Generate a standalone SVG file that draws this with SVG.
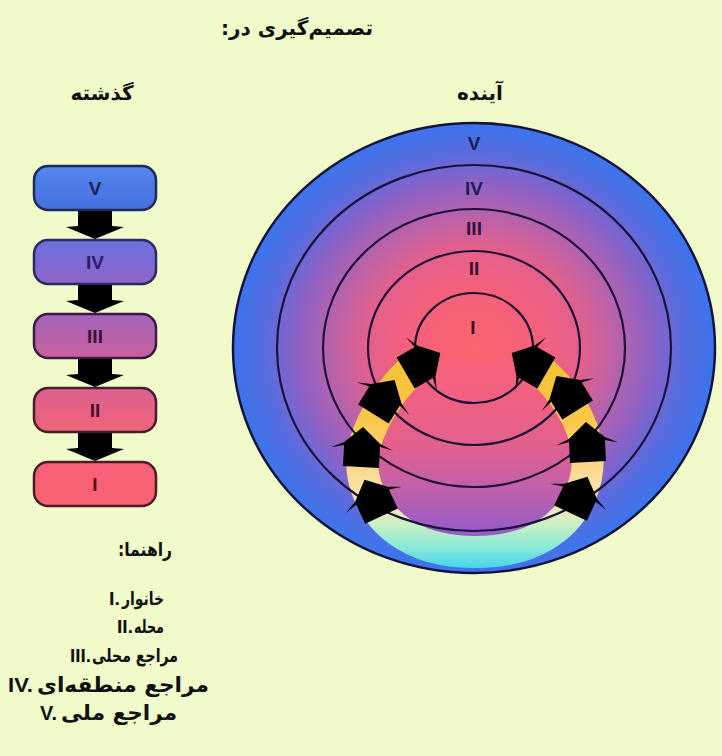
<svg xmlns="http://www.w3.org/2000/svg" width="722" height="756" viewBox="0 0 722 756">
<style>
.fa{font-family:"DejaVu Sans","Noto Sans",sans-serif;font-weight:bold;fill:#111}
.rn{font-family:"Liberation Sans",Arial,sans-serif;font-weight:bold;fill:#111}
.num{font-family:"Liberation Sans",Arial,sans-serif;font-weight:bold;font-size:19px;text-anchor:middle}
.tnum{font-family:"Liberation Sans",Arial,sans-serif;font-weight:bold;font-size:19px;text-anchor:middle}
.box{stroke-width:2.5}
.ring{fill:none;stroke:#1c1238;stroke-width:2.2}
.arr{fill:#000}
</style>
<defs>
<radialGradient id="gTarget" cx="0.5" cy="0.5" r="0.5">
<stop offset="0" stop-color="#fb6470"/>
<stop offset="0.25" stop-color="#f6607a"/>
<stop offset="0.45" stop-color="#e2608c"/>
<stop offset="0.6" stop-color="#b662ac"/>
<stop offset="0.74" stop-color="#8c62c6"/>
<stop offset="0.86" stop-color="#5a6cde"/>
<stop offset="1" stop-color="#3c74ec"/>
</radialGradient>
<linearGradient id="gBand" gradientUnits="userSpaceOnUse" x1="0" y1="345" x2="0" y2="570">
<stop offset="0" stop-color="#f6bf2e"/>
<stop offset="0.33" stop-color="#f8c84a"/>
<stop offset="0.55" stop-color="#fbd98e"/>
<stop offset="0.7" stop-color="#fce6b4"/>
<stop offset="0.8" stop-color="#c8f0c4"/>
<stop offset="0.9" stop-color="#88e8d8"/>
<stop offset="1" stop-color="#40d4ec"/>
</linearGradient>
<linearGradient id="gInner" gradientUnits="userSpaceOnUse" x1="0" y1="360" x2="0" y2="545">
<stop offset="0" stop-color="#f8627a"/>
<stop offset="0.45" stop-color="#e4608c"/>
<stop offset="0.7" stop-color="#c060aa"/>
<stop offset="1" stop-color="#8a5ad0"/>
</linearGradient>
<linearGradient id="gV" x1="0" y1="0" x2="0" y2="1"><stop offset="0" stop-color="#5686ec"/><stop offset="1" stop-color="#4470e0"/></linearGradient>
<linearGradient id="gIV" x1="0" y1="0" x2="0" y2="1"><stop offset="0" stop-color="#6c70e0"/><stop offset="1" stop-color="#9064c8"/></linearGradient>
<linearGradient id="gIII" x1="0" y1="0" x2="0" y2="1"><stop offset="0" stop-color="#a464bc"/><stop offset="1" stop-color="#c8609c"/></linearGradient>
<linearGradient id="gII" x1="0" y1="0" x2="0" y2="1"><stop offset="0" stop-color="#dc6090"/><stop offset="1" stop-color="#f06478"/></linearGradient>
<linearGradient id="gI" x1="0" y1="0" x2="0" y2="1"><stop offset="0" stop-color="#f8607a"/><stop offset="1" stop-color="#fa6470"/></linearGradient>
<path id="ringArrow" d="M -18,20 V -1 L -31,2 L -18,-4 L 0,-20 L 18,-4 L 31,2 L 18,-1 V 20 Z"/>
<path id="downArrow" d="M -17,0 V 15 L -29,16 L 0,28 L 29,16 L 17,15 V 0 Z"/>
</defs>

<rect x="0" y="0" width="722" height="756" fill="#f0fbc9"/>

<g id="title"><text class="fa" x="297" y="35" font-size="20" text-anchor="middle" direction="rtl">تصمیم‌گیری در:</text></g>
<g id="label-past"><text class="fa" x="102" y="100" font-size="20" text-anchor="middle" direction="rtl">گذشته</text></g>
<g id="label-future"><text class="fa" x="480" y="100" font-size="20" text-anchor="middle" direction="rtl">آینده</text></g>

<g id="box-V"><rect class="box" x="34" y="166" width="122" height="44" rx="14" fill="url(#gV)" stroke="#1c2a5a"/><text class="num" x="95" y="195" fill="#1c2456">V</text></g>
<g id="box-IV"><rect class="box" x="34" y="240" width="122" height="44" rx="14" fill="url(#gIV)" stroke="#2c2a60"/><text class="num" x="95" y="269" fill="#2a2260">IV</text></g>
<g id="box-III"><rect class="box" x="34" y="314" width="122" height="44" rx="14" fill="url(#gIII)" stroke="#3a1c40"/><text class="num" x="95" y="343" fill="#3c1038">III</text></g>
<g id="box-II"><rect class="box" x="34" y="388" width="122" height="44" rx="14" fill="url(#gII)" stroke="#4a1c30"/><text class="num" x="95" y="417" fill="#4a1028">II</text></g>
<g id="box-I"><rect class="box" x="34" y="462" width="122" height="44" rx="14" fill="url(#gI)" stroke="#4a1c2a"/><text class="num" x="95" y="491" fill="#501020">I</text></g>

<g id="connectors" class="arr">
<use href="#downArrow" transform="translate(95,211)"/>
<use href="#downArrow" transform="translate(95,285)"/>
<use href="#downArrow" transform="translate(95,359)"/>
<use href="#downArrow" transform="translate(95,433)"/>
</g>

<g id="target">
<ellipse cx="474" cy="348" rx="241" ry="225" fill="url(#gTarget)" stroke="#14143a" stroke-width="2.5"/>
<path d="M 423,363 C 400,375 372,415 364,447 C 357,478 372,515 405,535 C 430,550 455,552 475,552 C 495,552 520,550 545,535 C 578,515 593,478 586,442 C 578,410 555,378 529,363 Z" fill="url(#gInner)" stroke="none"/>
<path d="M 423,363 C 400,375 372,415 364,447 C 357,478 372,515 405,535 C 430,550 455,552 475,552 C 495,552 520,550 545,535 C 578,515 593,478 586,442 C 578,410 555,378 529,363" fill="none" stroke="url(#gBand)" stroke-width="32"/>
<ellipse class="ring" cx="474" cy="348" rx="197" ry="183"/>
<ellipse class="ring" cx="474" cy="348" rx="151" ry="139"/>
<ellipse class="ring" cx="474" cy="348" rx="106" ry="97"/>
<ellipse class="ring" cx="474" cy="348" rx="59" ry="55"/>
<text class="tnum" x="474" y="150" fill="#1a1f50">V</text>
<text class="tnum" x="474" y="195" fill="#221d55">IV</text>
<text class="tnum" x="474" y="235" fill="#2c1640">III</text>
<text class="tnum" x="474" y="275" fill="#3a1030">II</text>
<text class="tnum" x="473" y="334" fill="#401020">I</text>
</g>

<g id="ring-arrows" class="arr">
<use href="#ringArrow" transform="translate(423,363) rotate(60)"/>
<use href="#ringArrow" transform="translate(384,397) rotate(32)"/>
<use href="#ringArrow" transform="translate(362,447) rotate(3)"/>
<use href="#ringArrow" transform="translate(373,498) rotate(-25)"/>
<use href="#ringArrow" transform="translate(529,363) rotate(-60)"/>
<use href="#ringArrow" transform="translate(567,393) rotate(-32)"/>
<use href="#ringArrow" transform="translate(587,442) rotate(-3)"/>
<use href="#ringArrow" transform="translate(579,495) rotate(25)"/>
</g>

<g id="legend">
<text class="fa" x="145" y="556" font-size="19" text-anchor="middle" direction="rtl" textLength="54" lengthAdjust="spacingAndGlyphs">راهنما:</text>
<text class="rn" x="109" y="605" font-size="19" textLength="11" lengthAdjust="spacingAndGlyphs">I.</text>
<text class="fa" x="143" y="605" font-size="18" text-anchor="middle" direction="rtl" textLength="42" lengthAdjust="spacingAndGlyphs">خانوار</text>
<text class="rn" x="117" y="633" font-size="19" textLength="16" lengthAdjust="spacingAndGlyphs">II.</text>
<text class="fa" x="149" y="633" font-size="18" text-anchor="middle" direction="rtl" textLength="30" lengthAdjust="spacingAndGlyphs">محله</text>
<text class="rn" x="70" y="662" font-size="19" textLength="21" lengthAdjust="spacingAndGlyphs">III.</text>
<text class="fa" x="135" y="662" font-size="19" text-anchor="middle" direction="rtl" textLength="86" lengthAdjust="spacingAndGlyphs">مراجع محلی</text>
<text class="rn" x="8" y="692" font-size="21" textLength="25" lengthAdjust="spacingAndGlyphs">IV.</text>
<text class="fa" x="123" y="692" font-size="21" text-anchor="middle" direction="rtl" textLength="172" lengthAdjust="spacingAndGlyphs">مراجع منطقه‌ای</text>
<text class="rn" x="40" y="720" font-size="21" textLength="17" lengthAdjust="spacingAndGlyphs">V.</text>
<text class="fa" x="119" y="720" font-size="21" text-anchor="middle" direction="rtl" textLength="116" lengthAdjust="spacingAndGlyphs">مراجع ملی</text>
</g>
</svg>
